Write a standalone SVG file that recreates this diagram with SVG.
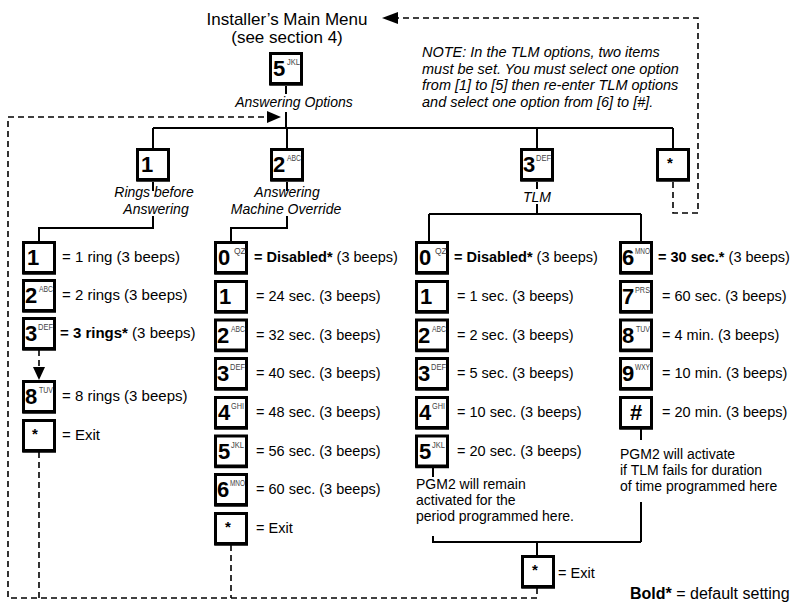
<svg xmlns="http://www.w3.org/2000/svg" width="795" height="604" viewBox="0 0 795 604">
<style>
.box{fill:#fff;stroke:#000;stroke-width:3}
.sh{fill:none;stroke:#000;stroke-width:1.5}
.dg{font-family:"Liberation Sans",Arial,sans-serif;font-weight:bold;font-size:22px;fill:#000}
.sup{font-family:"Liberation Sans",Arial,sans-serif;font-size:8.5px;fill:#444}
.st{font-family:"Liberation Sans",Arial,sans-serif;font-weight:bold;font-size:15px;fill:#000}
.t{font-family:"Liberation Sans",Arial,sans-serif;font-size:14.5px;fill:#000}
.t15{font-size:15px}
.b{font-weight:bold}
.it{font-family:"Liberation Sans",Arial,sans-serif;font-style:italic;font-size:14px;fill:#000}
.nt{font-family:"Liberation Sans",Arial,sans-serif;font-style:italic;font-size:14.5px;fill:#000}
.n{font-family:"Liberation Sans",Arial,sans-serif;font-size:14px;fill:#000}
.ti{font-family:"Liberation Sans",Arial,sans-serif;font-size:17px;fill:#000}
.lg{font-family:"Liberation Sans",Arial,sans-serif;font-size:16px;fill:#000}
.ln{stroke:#000;stroke-width:2;fill:none}
.ds{stroke:#000;stroke-width:1.6;stroke-dasharray:6 4;fill:none}
</style>
<defs>
<g id="bx"><rect class="box" x="1.5" y="1.5" width="31" height="30"/><path class="sh" d="M1,0.5V33H34"/></g>
</defs>

<g id="title">
<text class="ti" x="287" y="25" text-anchor="middle">Installer’s Main Menu</text>
<text class="ti" x="287" y="43" text-anchor="middle">(see section 4)</text>
</g>

<g id="note">
<text class="nt" x="422" y="57">NOTE: In the TLM options, two items</text>
<text class="nt" x="422" y="73.5">must be set. You must select one option</text>
<text class="nt" x="422" y="90">from [1] to [5] then re-enter TLM options</text>
<text class="nt" x="422" y="106.5">and select one option from [6] to [#].</text>
</g>

<g id="connectors">
<path class="ln" d="M286,86V94M286,112V128M153,128H673M153,128V149M287,128V149M537,128V149M673,128V149"/>
<path class="ln" d="M153,182V191M153,216V228H39V242M287,182V191M287,216V228H231V242"/>
<path class="ln" d="M537,182V189M537,204V214M429,214H641M429,214V242M641,214V242"/>
<path class="ln" d="M433,468V477M433,536V542H641M641,502V542M641,429V440M537,542V556"/>
<path class="ds" d="M673,182V213H698V18H396"/>
<polygon points="382,18 398,12 398,24" fill="#000"/>
<path class="ds" d="M537,588V598H8V117H268"/>
<polygon points="281,117 267,111 267,123" fill="#000"/>
<path class="ds" d="M39,452V598M231,545V598"/>
<path class="ds" d="M39,350V368"/>
<polygon points="39,380 33,367 45,367" fill="#000"/>
</g>

<g id="n5jkl" transform="translate(269,52)"><use href="#bx"/><text class="dg" x="4" y="24">5</text><text class="sup" x="18" y="13" textLength="13" lengthAdjust="spacingAndGlyphs">JKL</text></g>
<text class="it" x="294" y="107" text-anchor="middle">Answering Options</text>

<g id="n1" transform="translate(136,148)"><use href="#bx"/><text class="dg" x="5" y="24">1</text></g>
<g id="n1-label"><text class="it" x="154" y="197" text-anchor="middle">Rings before</text><text class="it" x="156" y="214" text-anchor="middle">Answering</text></g>
<g id="n2" transform="translate(270,148)"><use href="#bx"/><text class="dg" x="3" y="24">2</text><text class="sup" x="17" y="13" textLength="14" lengthAdjust="spacingAndGlyphs">ABC</text></g>
<g id="n2-label"><text class="it" x="287" y="197" text-anchor="middle">Answering</text><text class="it" x="286" y="214" text-anchor="middle">Machine Override</text></g>
<g id="n3" transform="translate(520,148)"><use href="#bx"/><text class="dg" x="3" y="24">3</text><text class="sup" x="16" y="13" textLength="15" lengthAdjust="spacingAndGlyphs">DEF</text></g>
<text class="it" x="537" y="202" text-anchor="middle">TLM</text>
<g id="nstar" transform="translate(656,148)"><use href="#bx"/><text class="st" x="11" y="20">*</text></g>

<!-- Rings column -->
<g id="r1" transform="translate(22,241)"><use href="#bx"/><text class="dg" x="5" y="24">1</text><text class="t t15" x="40" y="21">= 1 ring (3 beeps)</text></g>
<g id="r2" transform="translate(22,279)"><use href="#bx"/><text class="dg" x="3" y="24">2</text><text class="sup" x="17" y="13" textLength="14" lengthAdjust="spacingAndGlyphs">ABC</text><text class="t t15" x="40" y="21">= 2 rings (3 beeps)</text></g>
<g id="r3" transform="translate(22,317)"><use href="#bx"/><text class="dg" x="3" y="24">3</text><text class="sup" x="16" y="13" textLength="15" lengthAdjust="spacingAndGlyphs">DEF</text><text class="t t15" x="38" y="21"><tspan class="b">= 3 rings*</tspan> (3 beeps)</text></g>
<g id="r8" transform="translate(22,380)"><use href="#bx"/><text class="dg" x="3" y="24">8</text><text class="sup" x="17" y="13" textLength="14" lengthAdjust="spacingAndGlyphs">TUV</text><text class="t t15" x="40" y="21">= 8 rings (3 beeps)</text></g>
<g id="rx" transform="translate(22,419)"><use href="#bx"/><text class="st" x="10" y="20">*</text><text class="t t15" x="40" y="21">= Exit</text></g>

<!-- Answering machine override column -->
<g id="m0" transform="translate(214,241)"><use href="#bx"/><text class="dg" x="4" y="24">0</text><text class="sup" x="20" y="13">QZ</text><text class="t" x="40" y="21"><tspan class="b">= Disabled*</tspan> (3 beeps)</text></g>
<g id="m1" transform="translate(214,280)"><use href="#bx"/><text class="dg" x="5" y="24">1</text><text class="t" x="42" y="21">= 24 sec. (3 beeps)</text></g>
<g id="m2" transform="translate(214,318.5)"><use href="#bx"/><text class="dg" x="3" y="24">2</text><text class="sup" x="17" y="13" textLength="14" lengthAdjust="spacingAndGlyphs">ABC</text><text class="t" x="42" y="21">= 32 sec. (3 beeps)</text></g>
<g id="m3" transform="translate(214,357)"><use href="#bx"/><text class="dg" x="3" y="24">3</text><text class="sup" x="16" y="13" textLength="15" lengthAdjust="spacingAndGlyphs">DEF</text><text class="t" x="42" y="21">= 40 sec. (3 beeps)</text></g>
<g id="m4" transform="translate(214,396)"><use href="#bx"/><text class="dg" x="4" y="24">4</text><text class="sup" x="17" y="13" textLength="13" lengthAdjust="spacingAndGlyphs">GHI</text><text class="t" x="42" y="21">= 48 sec. (3 beeps)</text></g>
<g id="m5" transform="translate(214,434.5)"><use href="#bx"/><text class="dg" x="4" y="24">5</text><text class="sup" x="17" y="13" textLength="13" lengthAdjust="spacingAndGlyphs">JKL</text><text class="t" x="42" y="21">= 56 sec. (3 beeps)</text></g>
<g id="m6" transform="translate(214,473)"><use href="#bx"/><text class="dg" x="3" y="24">6</text><text class="sup" x="16" y="13" textLength="15" lengthAdjust="spacingAndGlyphs">MNO</text><text class="t" x="42" y="21">= 60 sec. (3 beeps)</text></g>
<g id="mx" transform="translate(214,512)"><use href="#bx"/><text class="st" x="11" y="20">*</text><text class="t" x="42" y="21">= Exit</text></g>

<!-- TLM left column -->
<g id="t0" transform="translate(415,241)"><use href="#bx"/><text class="dg" x="4" y="24">0</text><text class="sup" x="20" y="13">QZ</text><text class="t" x="39" y="21"><tspan class="b">= Disabled*</tspan> (3 beeps)</text></g>
<g id="t1" transform="translate(415,280)"><use href="#bx"/><text class="dg" x="5" y="24">1</text><text class="t" x="42" y="21">= 1 sec. (3 beeps)</text></g>
<g id="t2" transform="translate(415,318.5)"><use href="#bx"/><text class="dg" x="3" y="24">2</text><text class="sup" x="17" y="13" textLength="14" lengthAdjust="spacingAndGlyphs">ABC</text><text class="t" x="42" y="21">= 2 sec. (3 beeps)</text></g>
<g id="t3" transform="translate(415,357)"><use href="#bx"/><text class="dg" x="3" y="24">3</text><text class="sup" x="16" y="13" textLength="15" lengthAdjust="spacingAndGlyphs">DEF</text><text class="t" x="42" y="21">= 5 sec. (3 beeps)</text></g>
<g id="t4" transform="translate(415,396)"><use href="#bx"/><text class="dg" x="4" y="24">4</text><text class="sup" x="17" y="13" textLength="13" lengthAdjust="spacingAndGlyphs">GHI</text><text class="t" x="42" y="21">= 10 sec. (3 beeps)</text></g>
<g id="t5" transform="translate(415,434.5)"><use href="#bx"/><text class="dg" x="4" y="24">5</text><text class="sup" x="17" y="13" textLength="13" lengthAdjust="spacingAndGlyphs">JKL</text><text class="t" x="42" y="21">= 20 sec. (3 beeps)</text></g>
<g id="t-note1"><text class="n" x="416" y="489">PGM2 will remain</text><text class="n" x="416" y="505">activated for the</text><text class="n" x="416" y="521">period programmed here.</text></g>

<!-- TLM right column -->
<g id="t6" transform="translate(619,241)"><use href="#bx"/><text class="dg" x="3" y="24">6</text><text class="sup" x="16" y="13" textLength="15" lengthAdjust="spacingAndGlyphs">MNO</text><text class="t" x="39" y="21"><tspan class="b">= 30 sec.*</tspan> (3 beeps)</text></g>
<g id="t7" transform="translate(619,280)"><use href="#bx"/><text class="dg" x="3" y="24">7</text><text class="sup" x="16" y="13" textLength="15" lengthAdjust="spacingAndGlyphs">PRS</text><text class="t" x="43" y="21">= 60 sec. (3 beeps)</text></g>
<g id="t8" transform="translate(619,318.5)"><use href="#bx"/><text class="dg" x="3" y="24">8</text><text class="sup" x="17" y="13" textLength="14" lengthAdjust="spacingAndGlyphs">TUV</text><text class="t" x="43" y="21">= 4 min. (3 beeps)</text></g>
<g id="t9" transform="translate(619,357)"><use href="#bx"/><text class="dg" x="3" y="24">9</text><text class="sup" x="16" y="13" textLength="15" lengthAdjust="spacingAndGlyphs">WXY</text><text class="t" x="43" y="21">= 10 min. (3 beeps)</text></g>
<g id="th" transform="translate(619,396)"><use href="#bx"/><text class="dg" x="17" y="24" text-anchor="middle" font-size="19">#</text><text class="t" x="43" y="21">= 20 min. (3 beeps)</text></g>
<g id="t-note2"><text class="n" x="620" y="459">PGM2 will activate</text><text class="n" x="620" y="475">if TLM fails for duration</text><text class="n" x="620" y="491">of time programmed here</text></g>

<g id="tx" transform="translate(521,555)"><use href="#bx"/><text class="st" x="11" y="20">*</text><text class="t" x="37" y="23">= Exit</text></g>

<g id="legend"><text class="lg" x="630" y="599"><tspan class="b">Bold*</tspan> = default setting</text></g>
</svg>
